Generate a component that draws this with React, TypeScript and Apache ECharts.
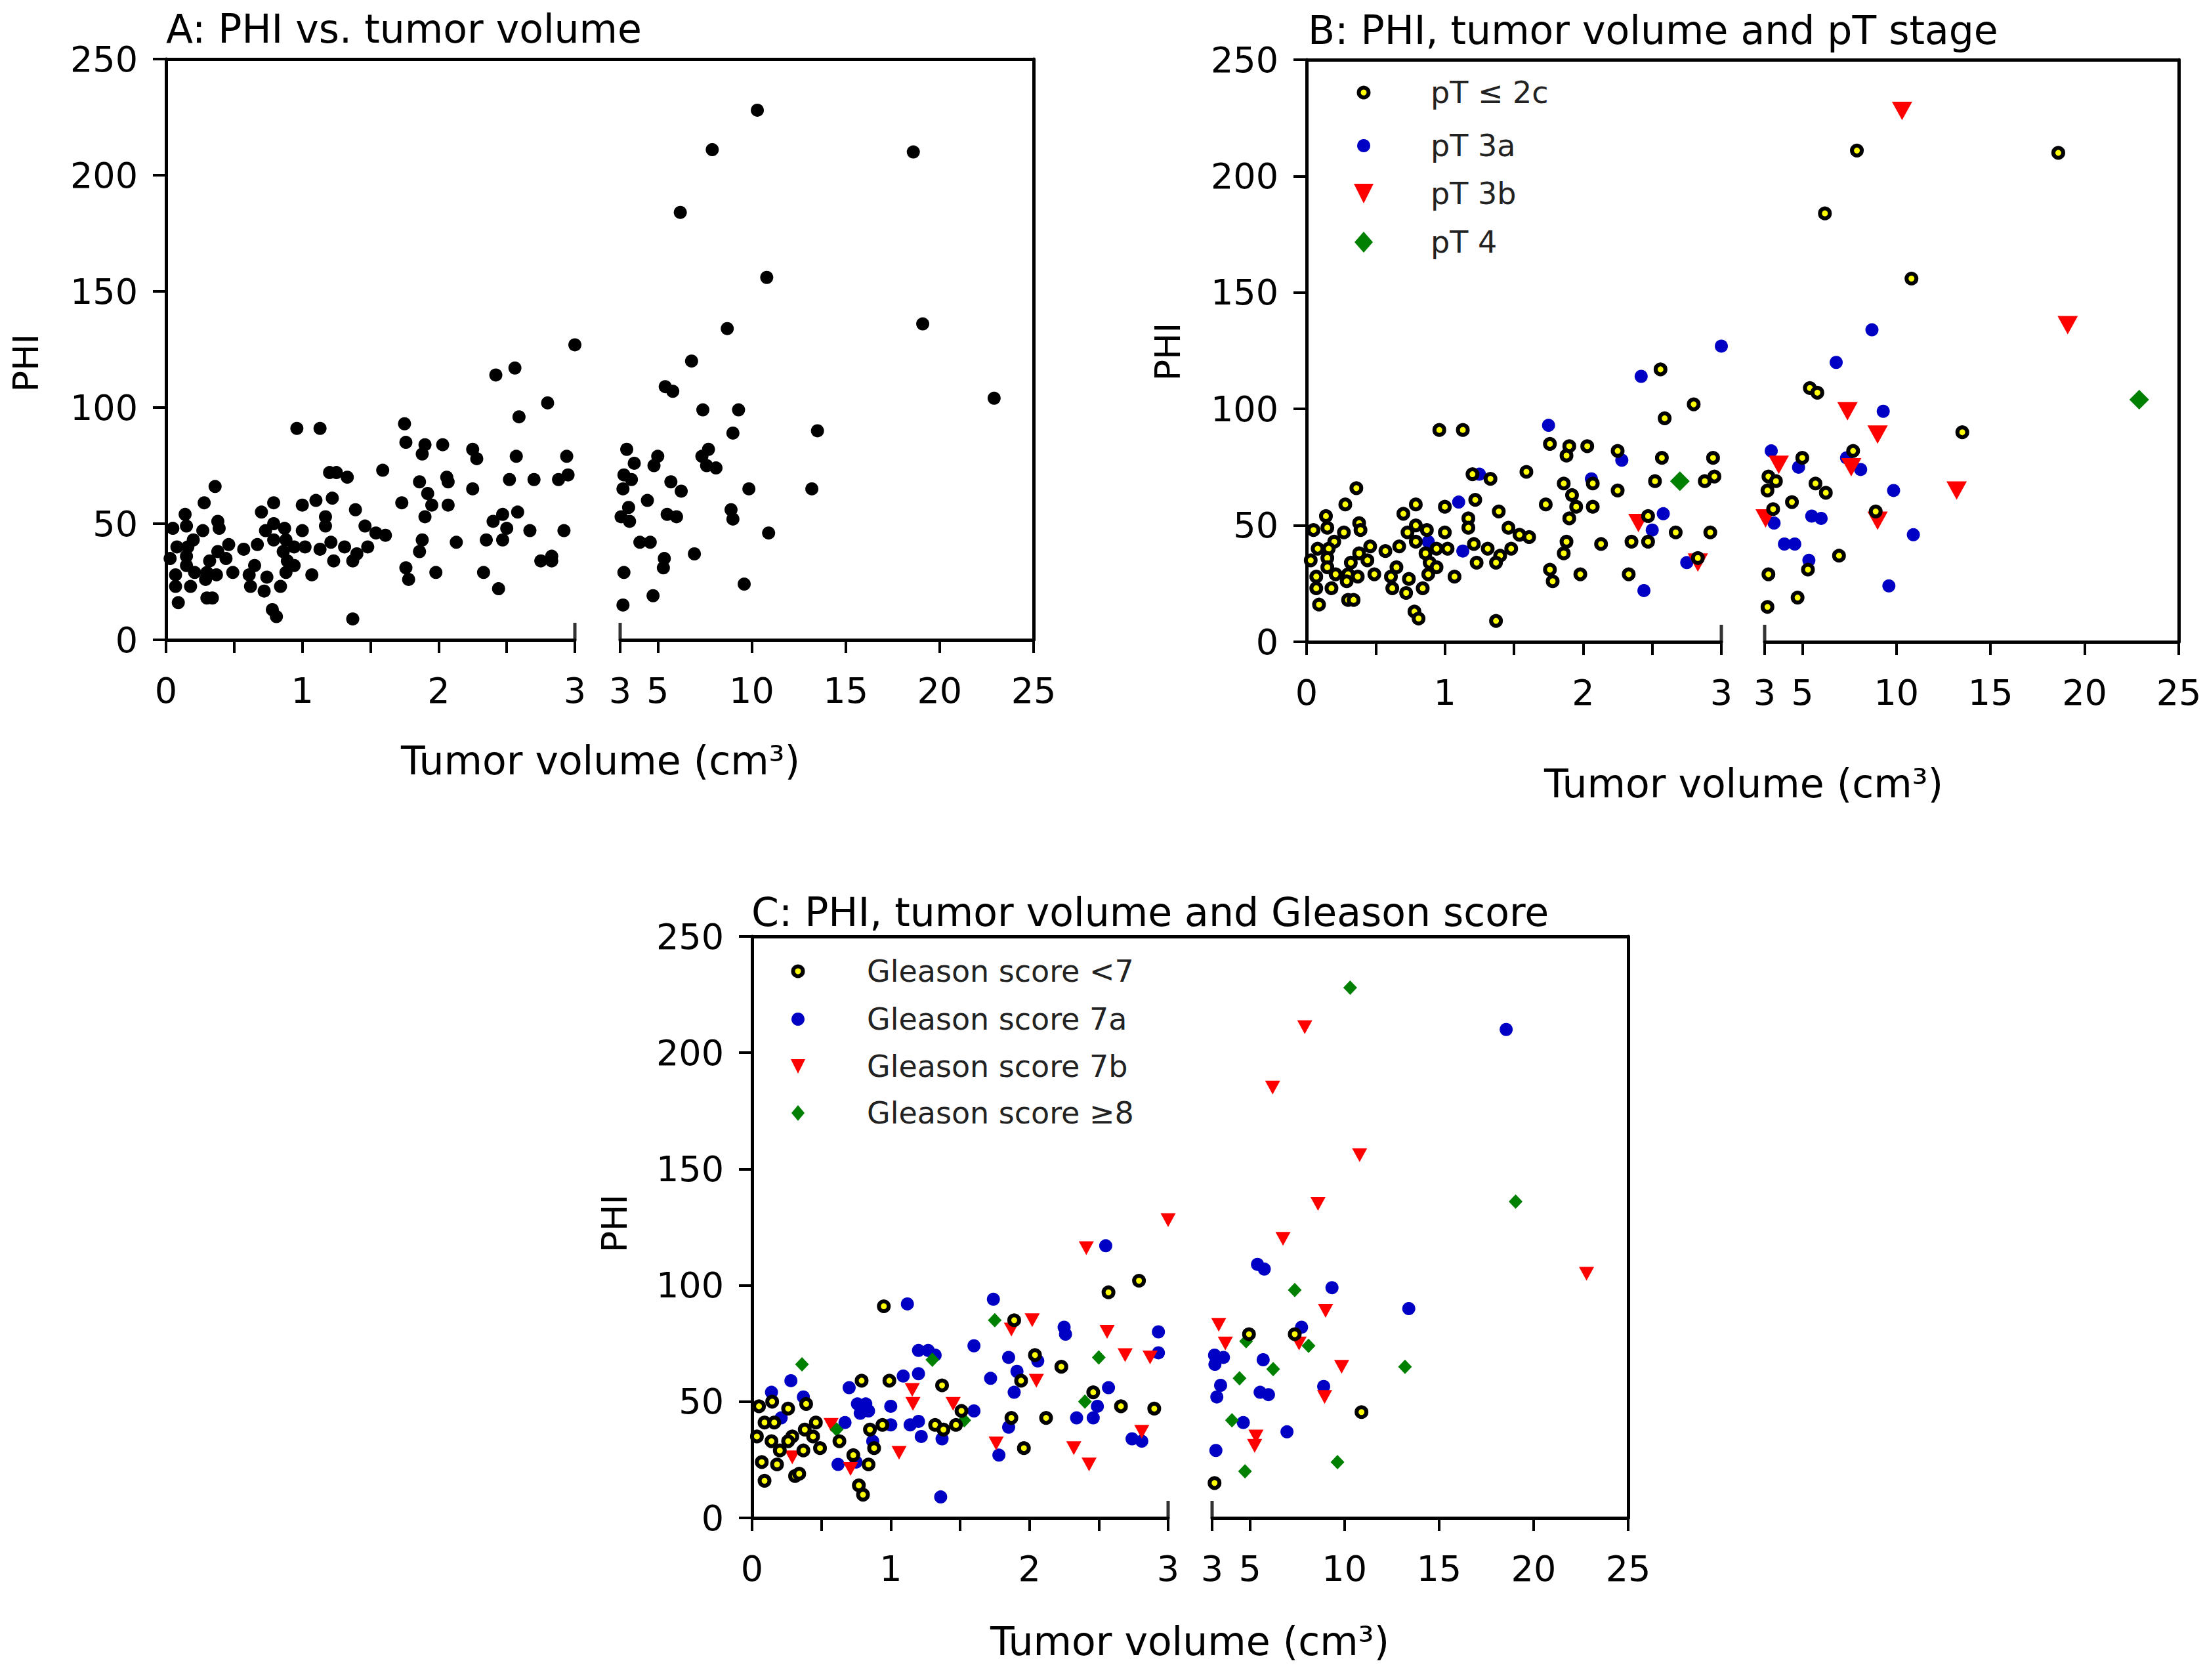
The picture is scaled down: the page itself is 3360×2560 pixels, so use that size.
import React, { useEffect, useRef } from 'react';
import * as echarts from 'echarts';

const W = 3360;
const H = 2560;
const FONT = 'DejaVu Sans';
const BREAK_AT = 3;

// ---------- data: [tumor volume (cm3), PHI] ----------
const PT_LE2C: number[][] = [
  [0.96, 91], [1.13, 91], [1.59, 73], [1.2, 72], [1.33, 70], [0.36, 66], [1.22, 61], [1.0, 58], [0.28, 59], [0.79, 59],
  [0.7, 55], [1.39, 56], [0.14, 54], [1.17, 53], [1.17, 49], [0.38, 51], [0.39, 48], [0.05, 48], [0.15, 49], [0.27, 47],
  [0.79, 50], [0.87, 48], [1.0, 47], [0.73, 47], [1.46, 49], [1.54, 46], [1.61, 45], [0.2, 43], [0.08, 40], [0.16, 40],
  [0.46, 41], [0.57, 39], [0.67, 41], [0.79, 43], [0.94, 40], [1.02, 40], [0.86, 38], [1.21, 42], [1.31, 40], [1.4, 37],
  [1.48, 40], [0.38, 38], [0.15, 36], [0.03, 35], [0.44, 35], [0.32, 34], [0.65, 32], [0.89, 34], [0.94, 32], [1.23, 34],
  [1.37, 34], [0.15, 32], [0.21, 29], [0.3, 29], [0.37, 28], [0.49, 29], [0.88, 29], [0.07, 28], [0.61, 28], [0.74, 27],
  [1.07, 28], [0.29, 26], [0.07, 23], [0.18, 23], [0.62, 23], [0.84, 23], [0.72, 21], [0.3, 18], [0.34, 18], [0.09, 16],
  [0.78, 13], [0.81, 10], [1.37, 9],
  [2.56, 117], [2.8, 102], [2.59, 96], [1.76, 85], [1.9, 84], [2.03, 84], [1.88, 80], [2.25, 82], [2.57, 79], [2.94, 79],
  [1.86, 68], [2.07, 68], [2.25, 65], [2.52, 69], [2.88, 69], [2.95, 71], [1.92, 63], [1.95, 58], [2.07, 58], [1.73, 59],
  [1.9, 53], [2.47, 54], [2.67, 47], [2.92, 47], [1.88, 43], [1.86, 38], [2.13, 42], [2.35, 43], [2.47, 43], [2.83, 36],
  [1.76, 31], [1.78, 26], [1.98, 29], [2.33, 29],
  [7.9, 211], [18.6, 210], [6.2, 184], [10.8, 156], [5.4, 109], [5.8, 107], [13.5, 90], [5.0, 79], [7.7, 82], [3.2, 71],
  [3.6, 69], [3.15, 65], [5.7, 68], [6.25, 64], [4.45, 60], [3.45, 57], [8.9, 56], [6.95, 37], [5.3, 31], [3.2, 29],
  [4.75, 19], [3.15, 15],
];
const PT_3A: number[][] = [
  [1.25, 72], [1.1, 60], [0.88, 43], [1.13, 39], [3.0, 127], [2.42, 114], [1.75, 93], [2.28, 78], [2.06, 70], [2.58, 55],
  [2.5, 48], [2.75, 34], [2.44, 22], [8.7, 134], [6.8, 120], [9.3, 99], [3.35, 82], [4.8, 75], [7.35, 79], [8.1, 74],
  [9.85, 65], [3.5, 51], [5.5, 54], [6.0, 53], [10.9, 46], [4.05, 42], [4.6, 42], [5.35, 35], [9.6, 24],
];
const PT_3B: number[][] = [
  [2.4, 51], [2.83, 34], [10.3, 228], [19.1, 136], [7.4, 99], [9.0, 89], [3.75, 76], [7.6, 75], [13.2, 65], [3.05, 53], [9.0, 52],
];
const PT_4: number[][] = [[2.7, 69], [22.9, 104]];

const GS_LT7: number[][] = [
  [0.95, 91], [0.79, 59], [0.99, 59], [1.37, 57], [0.145, 50], [0.05, 48], [0.26, 47], [0.39, 49], [1.51, 46], [0.09, 41],
  [0.16, 41], [0.46, 41], [0.38, 38], [0.85, 38], [0.94, 40], [1.32, 40], [1.38, 38], [1.47, 40], [0.035, 35], [0.14, 33],
  [0.44, 35], [0.29, 35], [0.26, 33], [0.2, 29], [0.37, 29], [0.49, 30], [0.63, 33], [0.73, 27], [0.88, 30], [0.07, 24],
  [0.18, 23], [0.84, 23], [0.31, 18], [0.34, 19], [0.09, 16], [0.77, 14], [0.8, 10],
  [2.79, 102], [2.57, 97], [1.89, 85], [2.04, 70], [2.23, 65], [1.94, 59], [2.46, 54], [2.66, 48], [2.9, 47], [1.87, 43],
  [2.12, 43], [1.96, 30],
  [4.95, 79], [7.37, 79], [10.9, 45.5], [3.13, 15],
];
const GS_7A: number[][] = [
  [1.12, 92], [1.2, 72], [1.27, 72], [1.32, 70], [0.28, 59], [1.09, 61], [1.2, 62], [0.7, 56], [0.14, 54], [0.37, 52],
  [0.76, 49], [0.82, 49], [0.78, 45], [0.84, 46], [1.0, 48], [0.21, 43], [0.67, 41], [1.0, 40], [1.14, 40], [1.2, 41.5],
  [1.22, 35], [1.37, 34], [0.87, 33], [0.62, 23], [0.75, 24], [1.36, 9],
  [2.55, 117], [1.74, 94], [2.25, 82], [2.26, 79], [2.93, 80], [1.6, 74], [2.93, 71], [1.85, 69], [2.06, 67.5], [1.91, 63],
  [1.72, 60], [1.89, 54], [2.57, 56], [2.49, 48], [2.46, 43], [2.34, 43], [1.6, 46], [1.85, 39], [2.74, 34], [2.81, 33],
  [1.78, 27],
  [18.55, 210], [5.4, 109], [5.76, 107], [9.34, 99], [13.4, 90], [7.73, 82], [3.13, 70], [3.6, 69], [3.15, 66], [5.7, 68],
  [3.45, 57], [3.25, 52], [5.54, 54], [5.98, 53], [8.9, 56.5], [4.65, 41], [6.96, 37], [3.2, 29],
];
const GS_7B: number[][] = [
  [1.155, 55], [1.16, 49], [1.45, 49], [0.57, 40], [1.06, 28], [0.71, 21], [0.29, 26],
  [3.0, 128], [2.41, 116], [1.87, 81], [2.02, 85], [2.56, 80], [2.69, 70], [2.87, 69], [2.05, 59], [2.81, 37], [1.76, 32],
  [2.32, 30], [2.43, 23],
  [7.9, 211], [6.2, 185], [10.8, 156], [8.6, 135], [6.75, 120], [22.8, 105], [9.0, 89], [3.35, 83], [3.7, 75], [7.6, 75],
  [9.85, 65], [8.95, 52], [5.32, 35], [5.25, 31],
];
const GS_GE8: number[][] = [
  [1.3, 68], [0.36, 66], [0.61, 38], [1.53, 42], [1.75, 85], [2.5, 69], [2.4, 50],
  [10.3, 228], [19.05, 136], [7.37, 98], [4.8, 76], [8.1, 74], [6.23, 64], [13.2, 65], [4.45, 60], [4.05, 42], [9.63, 24],
  [4.74, 20],
];
const ALL_POINTS: number[][] = [...PT_LE2C, ...PT_3A, ...PT_3B, ...PT_4];

const Y_MIN = 0;
const Y_MAX = 250;
const Y_STEP = 50;
const X_LEFT_MAX = 3;
const X_LEFT_STEP = 0.5;
const X_RIGHT_MAX = 25;
const X_RIGHT_TICKS = [3, 5, 10, 15, 20, 25];

const PT_LABELS = ['pT \u2264 2c', 'pT 3a', 'pT 3b', 'pT 4'];
const GS_LABELS = ['Gleason score <7', 'Gleason score 7a', 'Gleason score 7b', 'Gleason score \u22658'];

// ---------- layout ----------
type Panel = { ax: number; segEnd: number; rStart: number; rEnd: number; top: number; bottom: number };
const PA: Panel = { ax: 253, segEnd: 876, rStart: 945, rEnd: 1575, top: 90, bottom: 975 };
const PB: Panel = { ax: 1991, segEnd: 2623, rStart: 2689, rEnd: 3320, top: 91, bottom: 978 };
const PC: Panel = { ax: 1146, segEnd: 1780, rStart: 1847, rEnd: 2481, top: 1427, bottom: 2313 };

const YELLOW = '#ffff00';
const BLUE = '#0000c4';
const RED = '#ff0000';
const GREEN = '#008000';

type Sty = { symbol: string; size: number | number[]; color: string; border?: number; rotate?: number };
const S_BLACK: Sty = { symbol: 'circle', size: 20, color: '#000' };
const S_YEL: Sty = { symbol: 'circle', size: 15, color: YELLOW, border: 6 };
const S_BLUE: Sty = { symbol: 'circle', size: 20, color: BLUE };
const S_RED_B: Sty = { symbol: 'triangle', size: [31, 28], color: RED, rotate: 180 };
const S_GRN_B: Sty = { symbol: 'diamond', size: [30, 30], color: GREEN };
const S_RED_C: Sty = { symbol: 'triangle', size: [23, 21], color: RED, rotate: 180 };
const S_GRN_C: Sty = { symbol: 'diamond', size: [21, 22], color: GREEN };

const TICK_FONT = 54;
const TITLE_FONT = 60;
const NAME_FONT = 60;
const LEGEND_FONT = 46;

const axisLine = { show: true, onZero: false, lineStyle: { color: '#000', width: 5 } };
const tickStyle = { show: true, inside: false, length: 20, lineStyle: { color: '#000', width: 4 } };
const labelStyle = { color: '#000', fontSize: TICK_FONT, fontFamily: FONT };

function buildOption() {
  const grid: any[] = [];
  const xAxis: any[] = [];
  const yAxis: any[] = [];
  const series: any[] = [];
  const graphic: any[] = [];

  const addPanel = (p: Panel, groups: { data: number[][]; sty: Sty }[]) => {
    const h = p.bottom - p.top;
    // frame (top + right lines)
    const gf = grid.length;
    grid.push({ left: p.ax, top: p.top, width: p.rEnd - p.ax, height: h, outerBoundsMode: 'none' });
    xAxis.push({
      gridIndex: gf, type: 'value', position: 'top', min: 0, max: 1, axisLine,
      axisTick: { show: false }, axisLabel: { show: false }, splitLine: { show: false },
    });
    yAxis.push({
      gridIndex: gf, type: 'value', position: 'right', min: 0, max: 1, axisLine,
      axisTick: { show: false }, axisLabel: { show: false }, splitLine: { show: false },
    });
    // left segment
    const gl = grid.length;
    grid.push({ left: p.ax, top: p.top, width: p.segEnd - p.ax, height: h, outerBoundsMode: 'none' });
    xAxis.push({
      gridIndex: gl, type: 'value', min: 0, max: X_LEFT_MAX, interval: X_LEFT_STEP, axisLine, axisTick: tickStyle,
      axisLabel: { ...labelStyle, margin: 50, formatter: (v: number) => (Number.isInteger(v) ? String(v) : '') },
      splitLine: { show: false },
    });
    yAxis.push({
      gridIndex: gl, type: 'value', min: Y_MIN, max: Y_MAX, interval: Y_STEP, axisLine, axisTick: tickStyle,
      axisLabel: { ...labelStyle, margin: 43 }, splitLine: { show: false },
    });
    // right segment
    const gr = grid.length;
    grid.push({ left: p.rStart, top: p.top, width: p.rEnd - p.rStart, height: h, outerBoundsMode: 'none' });
    xAxis.push({
      gridIndex: gr, type: 'value', min: BREAK_AT, max: X_RIGHT_MAX, axisLine,
      axisTick: { ...tickStyle, customValues: X_RIGHT_TICKS },
      axisLabel: { ...labelStyle, margin: 50, customValues: X_RIGHT_TICKS },
      splitLine: { show: false },
    });
    yAxis.push({
      gridIndex: gr, type: 'value', min: Y_MIN, max: Y_MAX, interval: Y_STEP, show: false, splitLine: { show: false },
    });
    // break marks
    [gl, gr].forEach((gi) => {
      series.push({
        type: 'scatter', xAxisIndex: gi, yAxisIndex: gi, data: [[BREAK_AT, Y_MIN]], symbol: 'rect',
        symbolSize: [5, 26], symbolOffset: [0, -13], itemStyle: { color: '#000' }, clip: false, silent: true, z: 5,
      });
    });
    groups.forEach((g, k) => {
      [
        [gl, g.data.filter((d) => d[0] <= BREAK_AT)],
        [gr, g.data.filter((d) => d[0] > BREAK_AT)],
      ].forEach(([gi, data]: any) => {
        series.push({
          type: 'scatter', xAxisIndex: gi, yAxisIndex: gi, data, symbol: g.sty.symbol, symbolSize: g.sty.size,
          symbolRotate: g.sty.rotate || 0, clip: false, silent: true, z: 2 + k * 0.01,
          itemStyle: {
            color: g.sty.color, opacity: 1,
            borderColor: g.sty.border ? '#000' : g.sty.color, borderWidth: g.sty.border || 0,
          },
        });
      });
    });
  };

  addPanel(PA, [{ data: ALL_POINTS, sty: S_BLACK }]);
  addPanel(PB, [
    { data: PT_3A, sty: S_BLUE },
    { data: PT_3B, sty: S_RED_B },
    { data: PT_4, sty: S_GRN_B },
    { data: PT_LE2C, sty: S_YEL },
  ]);
  addPanel(PC, [
    { data: GS_7A, sty: S_BLUE },
    { data: GS_7B, sty: S_RED_C },
    { data: GS_GE8, sty: S_GRN_C },
    { data: GS_LT7, sty: S_YEL },
  ]);

  const txt = (text: string, x: number, y: number, size: number, align = 'left', rot = 0, fill = '#000') => ({
    type: 'text', x, y, rotation: rot, silent: true,
    style: {
      text, fill, fontSize: size, fontFamily: FONT, align, verticalAlign: 'middle',
      textAlign: align, textVerticalAlign: 'middle',
    },
  });

  graphic.push(txt('A: PHI vs. tumor volume', 253, 44, TITLE_FONT));
  graphic.push(txt('B: PHI, tumor volume and pT stage', 1993, 46, TITLE_FONT));
  graphic.push(txt('C: PHI, tumor volume and Gleason score', 1145, 1390, TITLE_FONT));
  graphic.push(txt('PHI', 39, 553, 54, 'center', Math.PI / 2));
  graphic.push(txt('PHI', 1779, 536, 54, 'center', Math.PI / 2));
  graphic.push(txt('PHI', 936, 1864, 54, 'center', Math.PI / 2));
  graphic.push(txt('Tumor volume (cm\u00b3)', 915, 1159, NAME_FONT, 'center'));
  graphic.push(txt('Tumor volume (cm\u00b3)', 2657, 1194, NAME_FONT, 'center'));
  graphic.push(txt('Tumor volume (cm\u00b3)', 1813, 2501, NAME_FONT, 'center'));

  // legends
  const marker = (kind: string, cx: number, cy: number, w: number, hgt: number) => {
    if (kind === 'yellow') {
      return { type: 'circle', silent: true, shape: { cx, cy, r: w / 2 }, style: { fill: YELLOW, stroke: '#000', lineWidth: 6 } };
    }
    if (kind === 'blue') {
      return { type: 'circle', silent: true, shape: { cx, cy, r: w / 2 }, style: { fill: BLUE } };
    }
    if (kind === 'red') {
      return {
        type: 'polygon', silent: true,
        shape: { points: [[cx - w / 2, cy - hgt / 2], [cx + w / 2, cy - hgt / 2], [cx, cy + hgt / 2]] },
        style: { fill: RED },
      };
    }
    return {
      type: 'polygon', silent: true,
      shape: { points: [[cx, cy - hgt / 2], [cx + w / 2, cy], [cx, cy + hgt / 2], [cx - w / 2, cy]] },
      style: { fill: GREEN },
    };
  };
  const kinds = ['yellow', 'blue', 'red', 'green'];
  const bRows = [141, 222, 295, 369];
  const bSizes = [[15, 15], [20, 20], [30, 30], [28, 32]];
  kinds.forEach((k, i) => {
    graphic.push(marker(k, 2078, bRows[i], bSizes[i][0], bSizes[i][1]));
    graphic.push(txt(PT_LABELS[i], 2180, bRows[i], LEGEND_FONT, 'left', 0, '#222'));
  });
  const cRows = [1480, 1553, 1625, 1696];
  const cSizes = [[15, 15], [20, 20], [22, 22], [20, 24]];
  kinds.forEach((k, i) => {
    graphic.push(marker(k, 1216, cRows[i], cSizes[i][0], cSizes[i][1]));
    graphic.push(txt(GS_LABELS[i], 1321, cRows[i], LEGEND_FONT, 'left', 0, '#222'));
  });

  return { animation: false, backgroundColor: '#fff', grid, xAxis, yAxis, series, graphic };
}

export default function App() {
  const ref = useRef<HTMLDivElement>(null);
  useEffect(() => {
    document.body.style.margin = '0';
    const chart = echarts.init(ref.current as HTMLDivElement, null, { renderer: 'svg', width: W, height: H });
    chart.setOption(buildOption() as any);
    return () => chart.dispose();
  }, []);
  return <div ref={ref} style={{ position: 'absolute', left: 0, top: 0, width: W, height: H, background: '#fff' }} />;
}
